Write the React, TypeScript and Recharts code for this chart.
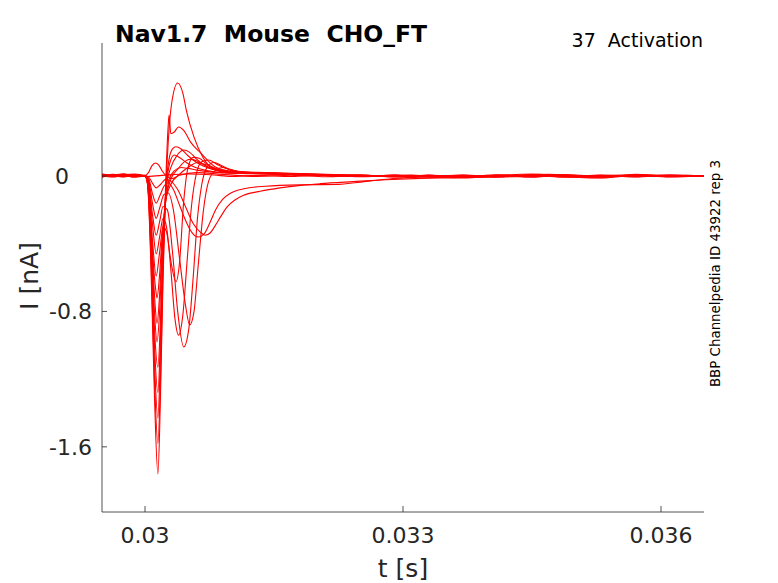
import React from 'react';
import { LineChart, Line, XAxis, YAxis } from 'recharts';

// sweeps of the activation protocol, [t (s), I (nA)]
const trace01: [number, number][] = [
  [0.0295, 0.006], [0.02962, -0.004], [0.02975, 0.01], [0.02988, 0.002], [0.03, -0.003], [0.0302, 0.004], [0.0305, 0.012], [0.0308, 0.006], [0.031, -0.002],
  [0.0313, 0.004], [0.0317, -0.003], [0.0321, 0.006], [0.0325, -0.002], [0.0329, 0.003], [0.0333, -0.005], [0.0337, -0.012], [0.0341, 0.002], [0.0345, 0.012], [0.0349, -0.003], [0.0353, -0.01], [0.0357, 0.01], [0.0361, -0.002], [0.0365, 0.002],
];
const trace02: [number, number][] = [
  [0.0295, -0.005], [0.02962, 0.008], [0.02975, 0.003], [0.02988, -0.006], [0.03, 0.002], [0.03004, 0.02], [0.03008, 0.06], [0.03012, 0.077], [0.03016, 0.065], [0.0302, 0.03], [0.03025, 0.0], [0.03032, -0.015], [0.0304, 0.005], [0.0306, 0.02], [0.0309, 0.01],
  [0.0313, -0.002], [0.0317, 0.005], [0.0321, -0.004], [0.0325, 0.003], [0.0329, -0.006], [0.0333, 0.004], [0.0337, -0.003], [0.0341, 0.005], [0.0345, 0.004], [0.0349, -0.006], [0.0353, 0.002], [0.0357, 0.003], [0.0361, 0.005], [0.0365, -0.001],
];
const trace03: [number, number][] = [
  [0.0295, 0.01], [0.02962, 0.003], [0.02975, -0.005], [0.02988, 0.008], [0.03, 0.0], [0.03004, -0.005], [0.03009, -0.045], [0.03013, -0.07], [0.03018, -0.05], [0.03024, -0.02], [0.0303, -0.03], [0.03038, -0.08], [0.03047, -0.18], [0.03056, -0.28], [0.03064, -0.33], [0.0307, -0.35], [0.03076, -0.335], [0.03082, -0.29], [0.03088, -0.24], [0.03095, -0.185], [0.03105, -0.14], [0.03114, -0.115],
  [0.03134, -0.09], [0.03157, -0.07], [0.03181, -0.055], [0.03204, -0.045], [0.03242, -0.033], [0.0328, -0.022], [0.0332, -0.014], [0.0337, -0.008], [0.0341, -0.004], [0.0345, 0.002], [0.0349, -0.006], [0.0353, -0.002], [0.0357, 0.004], [0.0361, -0.003], [0.0365, 0.001],
];
const trace04: [number, number][] = [
  [0.0295, -0.004], [0.02962, 0.006], [0.02975, 0.012], [0.02988, -0.002], [0.03, 0.003], [0.03004, -0.01], [0.03009, -0.11], [0.03013, -0.16], [0.03017, -0.12], [0.03022, -0.06], [0.03027, -0.04], [0.03033, -0.08], [0.0304, -0.17], [0.03047, -0.26], [0.03054, -0.33], [0.03062, -0.36], [0.03069, -0.34], [0.03076, -0.27], [0.03082, -0.2], [0.0309, -0.14], [0.031, -0.1], [0.03115, -0.075],
  [0.0314, -0.06], [0.0318, -0.052], [0.0322, -0.05], [0.0326, -0.03], [0.0329, -0.015], [0.0333, -0.004], [0.0337, 0.003], [0.0341, -0.005], [0.0345, 0.006], [0.0349, -0.004], [0.0353, -0.012], [0.0357, 0.003], [0.0361, 0.005], [0.0365, -0.002],
];
const trace05: [number, number][] = [
  [0.0295, 0.002], [0.02962, -0.006], [0.02975, 0.004], [0.02988, 0.009], [0.03, -0.002], [0.03004, -0.02], [0.03009, -0.17], [0.03013, -0.25], [0.03017, -0.19], [0.03022, -0.11], [0.03027, -0.1], [0.03033, -0.2], [0.0304, -0.48], [0.03047, -0.76], [0.03052, -0.88], [0.03057, -0.8], [0.03062, -0.52], [0.03068, -0.2], [0.03074, -0.03], [0.03082, 0.035], [0.0309, 0.05], [0.031, 0.038], [0.03115, 0.02],
  [0.0313, 0.018], [0.0317, 0.01], [0.0321, 0.004], [0.0325, -0.004], [0.0329, 0.003], [0.0333, -0.006], [0.0337, 0.004], [0.0341, -0.002], [0.0345, 0.005], [0.0349, -0.003], [0.0353, 0.002], [0.0357, -0.005], [0.0361, 0.003], [0.0365, 0.0],
];
const trace06: [number, number][] = [
  [0.0295, -0.006], [0.02962, 0.002], [0.02975, -0.003], [0.02988, 0.005], [0.03, 0.001], [0.03004, -0.03], [0.03009, -0.24], [0.03013, -0.35], [0.03017, -0.27], [0.03021, -0.18], [0.03026, -0.2], [0.03032, -0.45], [0.03038, -0.8], [0.03045, -1.01], [0.03051, -0.9], [0.03056, -0.6], [0.03061, -0.25], [0.03066, -0.05], [0.03072, 0.05], [0.0308, 0.08], [0.0309, 0.06], [0.031, 0.035], [0.03115, 0.022],
  [0.0313, 0.015], [0.0317, 0.008], [0.0321, 0.002], [0.0325, 0.006], [0.0329, -0.003], [0.0333, 0.004], [0.0337, -0.005], [0.0341, 0.003], [0.0345, -0.004], [0.0349, 0.008], [0.0353, -0.002], [0.0357, 0.004], [0.0361, -0.004], [0.0365, 0.002],
];
const trace07: [number, number][] = [
  [0.0295, 0.012], [0.02962, 0.004], [0.02975, -0.002], [0.02988, 0.003], [0.03, 0.004], [0.03004, -0.04], [0.03009, -0.3], [0.03013, -0.46], [0.03017, -0.36], [0.03021, -0.25], [0.03025, -0.3], [0.0303, -0.55], [0.03035, -0.85], [0.03039, -0.94], [0.03044, -0.82], [0.03049, -0.5], [0.03054, -0.18], [0.0306, 0.02], [0.03066, 0.085], [0.03074, 0.095], [0.03085, 0.065], [0.031, 0.035], [0.0312, 0.022],
  [0.0317, 0.012], [0.0321, 0.006], [0.0325, -0.002], [0.0329, 0.004], [0.0333, -0.003], [0.0337, 0.006], [0.0341, -0.006], [0.0345, 0.002], [0.0349, -0.002], [0.0353, 0.006], [0.0357, -0.003], [0.0361, 0.002], [0.0365, 0.003],
];
const trace08: [number, number][] = [
  [0.0295, 0.0], [0.02962, 0.01], [0.02975, 0.005], [0.02988, -0.004], [0.03, 0.002], [0.03004, -0.05], [0.03009, -0.4], [0.03013, -0.59], [0.03017, -0.45], [0.03021, -0.3], [0.03025, -0.33], [0.0303, -0.5], [0.03036, -0.625], [0.0304, -0.52], [0.03045, -0.15], [0.0305, 0.05], [0.03056, 0.11], [0.03063, 0.105], [0.03072, 0.07], [0.03085, 0.038], [0.031, 0.022],
  [0.0313, 0.016], [0.0317, 0.01], [0.0321, 0.003], [0.0325, 0.006], [0.0329, -0.002], [0.0333, 0.003], [0.0337, -0.004], [0.0341, 0.007], [0.0345, -0.003], [0.0349, 0.001], [0.0353, -0.006], [0.0357, 0.006], [0.0361, 0.001], [0.0365, -0.002],
];
const trace09: [number, number][] = [
  [0.0295, 0.003], [0.02962, -0.002], [0.02975, 0.008], [0.02988, 0.012], [0.03, 0.0], [0.03004, -0.06], [0.03008, -0.4], [0.03012, -0.65], [0.03014, -0.72], [0.03017, -0.58], [0.0302, -0.35], [0.03024, -0.15], [0.03028, -0.02], [0.03034, 0.03], [0.03042, 0.05], [0.0305, 0.045], [0.0306, 0.035], [0.0308, 0.022], [0.031, 0.018],
  [0.0313, 0.02], [0.0317, 0.014], [0.0321, 0.008], [0.0325, 0.002], [0.0329, 0.005], [0.0333, -0.004], [0.0337, 0.002], [0.0341, -0.003], [0.0345, 0.004], [0.0349, -0.004], [0.0353, 0.003], [0.0357, 0.008], [0.0361, -0.003], [0.0365, 0.002],
];
const trace10: [number, number][] = [
  [0.0295, -0.003], [0.02962, 0.004], [0.02975, 0.0], [0.02988, 0.006], [0.03, 0.003], [0.03003, -0.03], [0.03007, -0.28], [0.03011, -0.7], [0.03014, -0.87], [0.03017, -0.7], [0.0302, -0.4], [0.03024, -0.15], [0.0303, -0.05], [0.0304, 0.01], [0.0305, 0.05], [0.03061, 0.08], [0.03072, 0.065], [0.03085, 0.04], [0.031, 0.026],
  [0.0313, 0.022], [0.0317, 0.016], [0.0321, 0.01], [0.0325, 0.004], [0.0329, -0.002], [0.0333, 0.005], [0.0337, -0.003], [0.0341, 0.002], [0.0345, -0.005], [0.0349, 0.004], [0.0353, 0.001], [0.0357, -0.004], [0.0361, 0.004], [0.0365, 0.0],
];
const trace11: [number, number][] = [
  [0.0295, 0.008], [0.02962, 0.0], [0.02975, -0.004], [0.02988, 0.002], [0.03, -0.003], [0.03003, -0.03], [0.03007, -0.3], [0.03011, -0.8], [0.03014, -0.98], [0.03017, -0.8], [0.0302, -0.45], [0.03024, -0.15], [0.0303, -0.02], [0.03038, 0.04], [0.03046, 0.085], [0.03053, 0.1], [0.03062, 0.085], [0.03074, 0.05], [0.0309, 0.03], [0.0311, 0.024],
  [0.0313, 0.02], [0.0317, 0.012], [0.0321, 0.006], [0.0325, 0.0], [0.0329, 0.004], [0.0333, -0.002], [0.0337, -0.008], [0.0341, 0.004], [0.0345, 0.002], [0.0349, -0.003], [0.0353, 0.004], [0.0357, -0.002], [0.0361, 0.006], [0.0365, 0.001],
];
const trace12: [number, number][] = [
  [0.0295, -0.002], [0.02962, 0.007], [0.02975, 0.003], [0.02988, -0.005], [0.03, 0.002], [0.03003, -0.04], [0.03007, -0.35], [0.03011, -0.9], [0.03015, -1.13], [0.03018, -0.85], [0.03021, -0.4], [0.03025, -0.05], [0.03029, 0.08], [0.03034, 0.124], [0.0304, 0.11], [0.03048, 0.08], [0.03058, 0.052], [0.03072, 0.032], [0.0309, 0.02],
  [0.0313, 0.015], [0.0317, 0.009], [0.0321, 0.003], [0.0325, 0.006], [0.0329, -0.004], [0.0333, 0.002], [0.0337, 0.004], [0.0341, -0.004], [0.0345, 0.006], [0.0349, -0.002], [0.0353, 0.002], [0.0357, 0.003], [0.0361, -0.005], [0.0365, 0.002],
];
const trace13: [number, number][] = [
  [0.0295, 0.005], [0.02962, -0.003], [0.02975, 0.007], [0.02988, 0.0], [0.03, 0.004], [0.03003, -0.04], [0.03007, -0.4], [0.03011, -1.0], [0.03015, -1.28], [0.03018, -0.95], [0.03021, -0.45], [0.03025, -0.05], [0.0303, 0.05], [0.03037, 0.12], [0.03045, 0.154], [0.03052, 0.14], [0.0306, 0.1], [0.0307, 0.062], [0.03085, 0.035], [0.031, 0.024],
  [0.0313, 0.018], [0.0317, 0.011], [0.0321, 0.004], [0.0325, -0.002], [0.0329, 0.006], [0.0333, 0.001], [0.0337, -0.002], [0.0341, 0.005], [0.0345, -0.006], [0.0349, 0.003], [0.0353, -0.004], [0.0357, 0.005], [0.0361, 0.0], [0.0365, 0.003],
];
const trace14: [number, number][] = [
  [0.0295, -0.001], [0.02962, 0.002], [0.02975, 0.011], [0.02988, 0.004], [0.03, 0.001], [0.03003, -0.04], [0.03007, -0.45], [0.03011, -1.1], [0.03015, -1.43], [0.03018, -1.05], [0.03021, -0.5], [0.03024, -0.1], [0.03028, 0.1], [0.03032, 0.16], [0.03036, 0.173], [0.03042, 0.16], [0.0305, 0.12], [0.0306, 0.08], [0.03075, 0.045], [0.0309, 0.028], [0.0311, 0.02],
  [0.0313, 0.016], [0.0317, 0.01], [0.0321, 0.005], [0.0325, 0.002], [0.0329, -0.003], [0.0333, 0.004], [0.0337, -0.001], [0.0341, 0.003], [0.0345, -0.002], [0.0349, 0.006], [0.0353, -0.003], [0.0357, 0.001], [0.0361, 0.003], [0.0365, -0.001],
];
const trace15: [number, number][] = [
  [0.0295, 0.004], [0.02962, 0.009], [0.02975, -0.003], [0.02988, 0.003], [0.03, -0.002], [0.03003, -0.05], [0.03007, -0.5], [0.03011, -1.2], [0.03015, -1.58], [0.03018, -1.2], [0.03021, -0.55], [0.03024, -0.05], [0.03027, 0.3], [0.03028, 0.36], [0.0303, 0.25], [0.03034, 0.26], [0.03039, 0.29], [0.03045, 0.27], [0.03053, 0.2], [0.03065, 0.135], [0.03082, 0.053], [0.031, 0.028],
  [0.0312, 0.02], [0.0315, 0.018], [0.0319, 0.012], [0.0323, 0.006], [0.0327, 0.001], [0.0331, 0.005], [0.0335, -0.003], [0.0339, 0.003], [0.0343, -0.004], [0.0347, 0.009], [0.0351, 0.0], [0.0355, -0.003], [0.0359, 0.004], [0.0363, 0.001], [0.0365, 0.002],
];
const trace16: [number, number][] = [
  [0.0295, -0.004], [0.02962, 0.003], [0.02975, 0.006], [0.02988, -0.003], [0.03, 0.003], [0.03003, -0.05], [0.03007, -0.55], [0.03011, -1.3], [0.03015, -1.76], [0.03018, -1.3], [0.03021, -0.6], [0.03024, -0.1], [0.03027, 0.2], [0.03031, 0.43], [0.03038, 0.55], [0.03044, 0.49], [0.03048, 0.39], [0.03057, 0.23], [0.03067, 0.114], [0.03078, 0.047], [0.03094, 0.02],
  [0.0311, 0.015], [0.0315, 0.012], [0.0319, 0.008], [0.0323, 0.003], [0.0327, -0.002], [0.0331, 0.004], [0.0335, 0.0], [0.0339, -0.007], [0.0343, 0.004], [0.0347, 0.01], [0.0351, -0.002], [0.0355, 0.002], [0.0359, -0.003], [0.0363, 0.004], [0.0365, 0.001],
];

const xTicks = [0.03, 0.033, 0.036];
const yTicks = [-1.6, -0.8, 0];
const xTickLabels = ['0.03', '0.033', '0.036'];
const yTickLabels = ['-1.6', '-0.8', '0'];

const traces = [trace01, trace02, trace03, trace04, trace05, trace06, trace07, trace08,
  trace09, trace10, trace11, trace12, trace13, trace14, trace15, trace16];

const W = 778;
const H = 583;
const LEFT = 102;
const TOP = 43;
const RIGHT = 704;
const BOTTOM = 512;
const AXIS = '#262626';
const FONT = '"DejaVu Sans", sans-serif';

const XTick = (props: any) => {
  const { x, payload } = props;
  const idx = xTicks.indexOf(payload.value);
  return (
    <g>
      <line x1={x} x2={x} y1={BOTTOM} y2={BOTTOM - 6} stroke={AXIS} strokeWidth={0.8} />
      <text x={x} y={543} textAnchor="middle" fontSize={22} fontFamily={FONT} fill={AXIS}>
        {idx >= 0 ? xTickLabels[idx] : payload.value}
      </text>
    </g>
  );
};

const YTick = (props: any) => {
  const { y, payload } = props;
  const idx = yTicks.indexOf(payload.value);
  const label = idx >= 0 ? yTickLabels[idx] : String(payload.value);
  return (
    <g>
      <line x1={LEFT} x2={LEFT + 5} y1={y} y2={y} stroke={AXIS} strokeWidth={0.8} />
      <text x={label === '0' ? 69 : 92} y={y + 8} textAnchor="end" fontSize={22} fontFamily={FONT} fill={AXIS}>
        {label}
      </text>
    </g>
  );
};

export default function App() {
  return (
    <div style={{ position: 'absolute', left: 0, top: 0, width: W, height: H, background: '#fff' }}>
      <LineChart
        width={W}
        height={H}
        margin={{ top: TOP, right: W - RIGHT, bottom: H - BOTTOM - 1, left: LEFT - 1 }}
      >
        <XAxis
          type="number"
          dataKey="t"
          domain={[0.0295, 0.0365]}
          ticks={xTicks}
          interval={0}
          allowDataOverflow
          height={1}
          tickLine={false}
          axisLine={{ stroke: AXIS, strokeWidth: 0.8 }}
          tick={XTick}
        />
        <YAxis
          type="number"
          domain={[-1.985, 0.786]}
          ticks={yTicks}
          interval={0}
          allowDataOverflow
          width={1}
          tickLine={false}
          axisLine={{ stroke: AXIS, strokeWidth: 0.8 }}
          tick={YTick}
        />
        {traces.map((tr, k) => (
          <Line
            key={k}
            data={tr.map(([t, i]) => ({ t, i }))}
            dataKey="i"
            type="monotone"
            stroke="#ff0000"
            strokeWidth={1.1}
            dot={false}
            activeDot={false}
            isAnimationActive={false}
          />
        ))}
      </LineChart>
      <svg width={W} height={H} style={{ position: 'absolute', left: 0, top: 0, pointerEvents: 'none' }}>
        <text x={115} y={42} fontSize={23.5} fontWeight="bold" fontFamily={FONT} fill="#000" style={{ whiteSpace: 'pre' }}>
          Nav1.7  Mouse  CHO_FT
        </text>
        <text x={703} y={47} textAnchor="end" fontSize={19} fontFamily={FONT} fill="#000" style={{ whiteSpace: 'pre' }}>
          37  Activation
        </text>
        <text x={403} y={577} textAnchor="middle" fontSize={25} fontFamily={FONT} fill={AXIS}>
          t [s]
        </text>
        <text x={38} y={276} textAnchor="middle" fontSize={25} fontFamily={FONT} fill={AXIS} transform="rotate(-90 38 276)">
          I [nA]
        </text>
        <text x={720} y={273.5} textAnchor="middle" fontSize={13.4} fontFamily={FONT} fill="#000" transform="rotate(-90 720 273.5)">
          BBP Channelpedia ID 43922 rep 3
        </text>
      </svg>
    </div>
  );
}
